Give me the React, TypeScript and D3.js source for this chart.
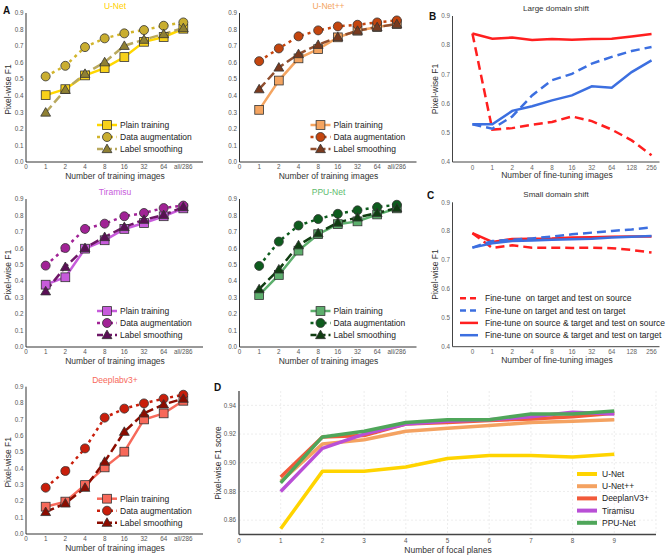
import React from "react";
import * as d3 from "d3";

const FONT = "'Liberation Sans', Arial, Helvetica, sans-serif";

// ---------- Panel A data ----------
const trainLabels = ["0", "1", "2", "4", "8", "16", "32", "64", "all/286"];
const trainPos = [1, 2, 3, 4, 5, 6, 7, 8];
const seriesNames = ["Plain training", "Data augmentation", "Label smoothing"];

const unetPlain = [0.404, 0.44, 0.523, 0.567, 0.634, 0.726, 0.755, 0.805];
const unetAug = [0.517, 0.581, 0.694, 0.747, 0.777, 0.797, 0.823, 0.843];
const unetLS = [0.299, 0.436, 0.533, 0.603, 0.702, 0.739, 0.773, 0.809];

const unetppPlain = [0.315, 0.492, 0.626, 0.682, 0.753, 0.793, 0.815, 0.833];
const unetppAug = [0.609, 0.686, 0.759, 0.795, 0.819, 0.829, 0.843, 0.855];
const unetppLS = [0.44, 0.571, 0.652, 0.708, 0.755, 0.793, 0.815, 0.833];

const tiraPlain = [0.379, 0.424, 0.598, 0.649, 0.718, 0.754, 0.795, 0.843];
const tiraAug = [0.495, 0.602, 0.718, 0.75, 0.795, 0.815, 0.845, 0.86];
const tiraLS = [0.339, 0.487, 0.602, 0.669, 0.73, 0.774, 0.803, 0.851];

const ppuPlain = [0.316, 0.438, 0.586, 0.686, 0.747, 0.764, 0.806, 0.843];
const ppuAug = [0.493, 0.641, 0.739, 0.778, 0.81, 0.831, 0.851, 0.865];
const ppuLS = [0.352, 0.472, 0.619, 0.692, 0.757, 0.788, 0.815, 0.845];

const deepPlain = [0.167, 0.198, 0.299, 0.407, 0.503, 0.7, 0.737, 0.814];
const deepAug = [0.283, 0.385, 0.523, 0.711, 0.766, 0.798, 0.827, 0.851];
const deepLS = [0.135, 0.187, 0.283, 0.442, 0.625, 0.737, 0.792, 0.827];

const yTicksA = [0, 0.1, 0.2, 0.3, 0.4, 0.5, 0.6, 0.7, 0.8, 0.9];

// ---------- Panel B / C data ----------
const ftLabels = ["0", "1", "2", "4", "8", "16", "32", "64", "128", "256"];
const ftPos = [0, 1, 2, 3, 4, 5, 6, 7, 8, 9];
const bRedSolid = [0.84, 0.822, 0.826, 0.818, 0.821, 0.819, 0.821, 0.822, 0.83, 0.838];
const bRedDashed = [0.84, 0.511, 0.516, 0.528, 0.537, 0.556, 0.54, 0.511, 0.474, 0.423];
const bBlueDashed = [0.529, 0.514, 0.556, 0.628, 0.68, 0.702, 0.737, 0.76, 0.78, 0.794];
const bBlueSolid = [0.529, 0.529, 0.575, 0.591, 0.611, 0.628, 0.659, 0.654, 0.708, 0.748];

const cRedSolid = [0.793, 0.763, 0.773, 0.774, 0.775, 0.778, 0.779, 0.781, 0.782, 0.782];
const cRedDashed = [0.793, 0.742, 0.751, 0.743, 0.743, 0.742, 0.743, 0.741, 0.735, 0.726];
const cBlueDashed = [0.743, 0.766, 0.77, 0.775, 0.781, 0.789, 0.795, 0.801, 0.806, 0.813];
const cBlueSolid = [0.743, 0.758, 0.766, 0.768, 0.77, 0.772, 0.774, 0.778, 0.781, 0.783];
const yTicksBC = [0.4, 0.5, 0.6, 0.7, 0.8, 0.9];
const ftLegend = [
  "Fine-tune  on target and test on source",
  "Fine-tune on target and test on target",
  "Fine-tune on source & target and test on source",
  "Fine-tune on source & target and test on target",
];

// ---------- Panel D data ----------
const focalPlanes = [1, 2, 3, 4, 5, 6, 7, 8, 9];
const focalTickLabels = [0, 1, 2, 3, 4, 5, 6, 7, 8, 9];
const dUnet = [0.854, 0.894, 0.894, 0.897, 0.903, 0.905, 0.905, 0.904, 0.906];
const dUnetpp = [0.887, 0.913, 0.916, 0.922, 0.924, 0.926, 0.928, 0.929, 0.93];
const dDeeplab = [0.89, 0.918, 0.919, 0.927, 0.928, 0.9295, 0.9305, 0.932, 0.9345];
const dTiramisu = [0.88, 0.91, 0.92, 0.927, 0.929, 0.93, 0.932, 0.9352, 0.934];
const dPpunet = [0.886, 0.918, 0.922, 0.928, 0.93, 0.93, 0.934, 0.934, 0.936];
const dNames = ["U-Net", "U-Net++", "DeeplanV3+", "Tiramisu", "PPU-Net"];
const dYTicks = [0.86, 0.88, 0.9, 0.92, 0.94];

type Style = { line: string; fill: string };

function Marker({ kind, x, y, fill }: { kind: number; x: number; y: number; fill: string }) {
  const stroke = "#333";
  if (kind === 0) return <rect x={x - 4.4} y={y - 4.4} width={8.8} height={8.8} fill={fill} stroke={stroke} strokeWidth={0.8} />;
  if (kind === 1) return <circle cx={x} cy={y} r={4.5} fill={fill} stroke={stroke} strokeWidth={0.8} />;
  const p = d3.symbol(d3.symbolTriangle, 42)() as string;
  return <path d={p} transform={`translate(${x},${y + 0.8})`} fill={fill} stroke={stroke} strokeWidth={0.8} />;
}

const dashA = ["none", "3 4", "9 4"];

function LearningPanel(props: {
  x0: number; yTop: number; yBot: number; title: string; titleColor: string;
  data: number[][]; styles: Style[]; showYLabel: boolean;
}) {
  const { x0, yTop, yBot, title, titleColor, data, styles, showYLabel } = props;
  const x = d3.scaleLinear().domain([0, 9]).range([x0, x0 + 177]);
  const y = d3.scaleLinear().domain([0, 0.9]).range([yBot, yTop]);
  const line = d3.line<number>().x((_, i) => x(trainPos[i])).y((d) => y(d));
  const lx = x0 + 71;
  return (
    <g>
      <text x={x0 + 89} y={yTop - 4} textAnchor="middle" fontSize={8.5} fill={titleColor}>{title}</text>
      <line x1={x0} x2={x0} y1={yTop} y2={yBot} stroke="#333" strokeWidth={1} />
      <line x1={x0} x2={x(9)} y1={yBot} y2={yBot} stroke="#333" strokeWidth={1} />
      {yTicksA.map((t) => (
        <text key={t} x={x0 - 2.5} y={y(t) + 2.2} textAnchor="end" fontSize={6.3} fill="#555">{d3.format(".1f")(t)}</text>
      ))}
      {trainLabels.map((l, i) => (
        <text key={l} x={x(i)} y={yBot + 7.2} textAnchor="middle" fontSize={6.3} fill="#555">{l}</text>
      ))}
      <text x={x0 + 89} y={yBot + 17} textAnchor="middle" fontSize={8.5} fill="#333">Number of training images</text>
      {showYLabel && (
        <text transform={`translate(10.5,${(yTop + yBot) / 2 + 2}) rotate(-90)`} textAnchor="middle" fontSize={8.5} fill="#333">Pixel-wise F1</text>
      )}
      {data.map((s, k) => (
        <path key={k} d={line(s) as string} fill="none" stroke={styles[k].line} strokeWidth={2.5} strokeDasharray={dashA[k]} />
      ))}
      {data.map((s, k) => (
        <g key={k}>
          {s.map((v, i) => (
            <Marker key={i} kind={k} x={x(trainPos[i])} y={y(v)} fill={styles[k].fill} />
          ))}
        </g>
      ))}
      {seriesNames.map((n, k) => {
        const ly = yTop + 112 + k * 12;
        return (
          <g key={n}>
            <line x1={lx} x2={lx + 20} y1={ly} y2={ly} stroke={styles[k].line} strokeWidth={2.5} strokeDasharray={k === 1 ? "3 3.5" : k === 2 ? "6 3" : "none"} />
            <Marker kind={k} x={lx + 10} y={ly} fill={styles[k].fill} />
            <text x={lx + 23} y={ly + 3} fontSize={8.5} fill="#222">{n}</text>
          </g>
        );
      })}
    </g>
  );
}

function ShiftPanel(props: {
  yTop: number; yBot: number; title: string; series: number[][]; colors: string[]; dashed: boolean[]; legend: boolean;
}) {
  const { yTop, yBot, title, series, colors, dashed, legend } = props;
  const x = d3.scaleLinear().domain([-1, 9.4]).range([452.5, 659.5]);
  const y = d3.scaleLinear().domain([0.4, 0.9]).range([yBot, yTop]);
  const line = d3.line<number>().x((_, i) => x(ftPos[i])).y((d) => y(d));
  return (
    <g>
      <text x={556} y={yTop - 5.5} textAnchor="middle" fontSize={8} fill="#333">{title}</text>
      <line x1={452.5} x2={452.5} y1={yTop} y2={yBot} stroke="#444" strokeWidth={1} />
      <line x1={452.5} x2={659.5} y1={yBot} y2={yBot} stroke="#444" strokeWidth={1} />
      {yTicksBC.map((t) => (
        <text key={t} x={450} y={y(t) + 2.2} textAnchor="end" fontSize={6.3} fill="#666">{d3.format(".1f")(t)}</text>
      ))}
      {ftLabels.map((l, i) => (
        <text key={l} x={x(ftPos[i])} y={yBot + 7.5} textAnchor="middle" fontSize={6.3} fill="#666">{l}</text>
      ))}
      <text x={557} y={yBot + 16} textAnchor="middle" fontSize={8.5} fill="#333">Number of fine-tuning images</text>
      <text transform={`translate(437.5,${(yTop + yBot) / 2}) rotate(-90)`} textAnchor="middle" fontSize={8.5} fill="#333">Pixel-wise F1</text>
      {series.map((s, k) => (
        <path key={k} d={line(s) as string} fill="none" stroke={colors[k]} strokeWidth={2.5} strokeDasharray={dashed[k] ? "9 5" : "none"} />
      ))}
      {legend && [1, 2, 0, 3].map((k, r) => {
        const ly = yTop + 96 + r * 12.3;
        return (
          <g key={k}>
            <line x1={460} x2={478} y1={ly} y2={ly} stroke={colors[k]} strokeWidth={2.5} strokeDasharray={dashed[k] ? "6 4" : "none"} />
            <text x={485} y={ly + 3} fontSize={8.5} fill="#222" style={{ whiteSpace: "pre" }}>{ftLegend[r]}</text>
          </g>
        );
      })}
    </g>
  );
}

function FocalPanel() {
  const x = d3.scaleLinear().domain([0, 10]).range([239, 656]);
  const y = d3.scaleLinear().domain([0.85, 0.95]).range([534.5, 391]);
  const line = d3.line<number>().x((_, i) => x(focalPlanes[i])).y((d) => y(d));
  const series = [dUnet, dUnetpp, dDeeplab, dTiramisu, dPpunet];
  const colors = ["#FFD400", "#F4A261", "#F25A3A", "#B94FD6", "#4FA65A"];
  return (
    <g>
      {d3.range(1, 11).map((v) => (
        <line key={v} x1={x(v)} x2={x(v)} y1={391} y2={534.5} stroke="#e8e8e8" strokeWidth={0.8} strokeDasharray="2 2" />
      ))}
      {dYTicks.map((t) => (
        <line key={t} x1={239} x2={656} y1={y(t)} y2={y(t)} stroke="#e8e8e8" strokeWidth={0.8} strokeDasharray="2 2" />
      ))}
      <line x1={239} x2={239} y1={391} y2={534.5} stroke="#444" strokeWidth={1.3} />
      <line x1={239} x2={656} y1={534.5} y2={534.5} stroke="#444" strokeWidth={1.3} />
      {dYTicks.map((t) => (
        <text key={t} x={236} y={y(t) + 2.2} textAnchor="end" fontSize={6.3} fill="#555">{d3.format(".2f")(t)}</text>
      ))}
      {focalTickLabels.map((t) => (
        <text key={t} x={x(t)} y={542.5} textAnchor="middle" fontSize={6.3} fill="#555">{t}</text>
      ))}
      <text x={448} y={553} textAnchor="middle" fontSize={8.5} fill="#333">Number of focal planes</text>
      <text transform={`translate(220.5,463) rotate(-90)`} textAnchor="middle" fontSize={8.5} fill="#333">Pixel-wise F1 score</text>
      {series.map((s, k) => (
        <path key={k} d={line(s) as string} fill="none" stroke={colors[k]} strokeWidth={3.5} strokeLinejoin="round" />
      ))}
      {dNames.map((n, k) => {
        const ly = 474 + k * 12.2;
        return (
          <g key={n}>
            <line x1={577} x2={597} y1={ly} y2={ly} stroke={colors[k]} strokeWidth={4} />
            <text x={602} y={ly + 3} fontSize={8.5} fill="#222">{n}</text>
          </g>
        );
      })}
    </g>
  );
}

export default function App() {
  const unetStyles: Style[] = [
    { line: "#FFD700", fill: "#F7D11A" },
    { line: "#D2B52C", fill: "#C9AE30" },
    { line: "#B9A95E", fill: "#8F8033" },
  ];
  const unetppStyles: Style[] = [
    { line: "#F4A460", fill: "#F4A460" },
    { line: "#C4450E", fill: "#C4450E" },
    { line: "#8F4E2E", fill: "#7A3A1E" },
  ];
  const tiraStyles: Style[] = [
    { line: "#C75BDB", fill: "#C75BDB" },
    { line: "#A12396", fill: "#A12396" },
    { line: "#6E1767", fill: "#5A0F55" },
  ];
  const ppuStyles: Style[] = [
    { line: "#5DAF6D", fill: "#5DAF6D" },
    { line: "#0E5C1E", fill: "#0E5C1E" },
    { line: "#103D12", fill: "#103D12" },
  ];
  const deepStyles: Style[] = [
    { line: "#F7695A", fill: "#F7695A" },
    { line: "#C91E0B", fill: "#C91E0B" },
    { line: "#8C0C00", fill: "#8C0C00" },
  ];
  const red = "#FF1F1F";
  const blue = "#3C6FE0";
  return (
    <svg width={667} height={557} style={{ position: "absolute", left: 0, top: 0, background: "#fff" }} fontFamily={FONT}>
      <rect width={667} height={557} fill="#fff" />
      <text x={3} y={13.5} fontSize={10} fontWeight="bold" fill="#111">A</text>
      <text x={429} y={20} fontSize={10} fontWeight="bold" fill="#111">B</text>
      <text x={427} y={198.5} fontSize={10} fontWeight="bold" fill="#111">C</text>
      <text x={214} y={391} fontSize={10} fontWeight="bold" fill="#111">D</text>

      <LearningPanel x0={26} yTop={13} yBot={162} title="U-Net" titleColor="#FFD000" data={[unetPlain, unetAug, unetLS]} styles={unetStyles} showYLabel />
      <LearningPanel x0={239.5} yTop={13} yBot={162} title="U-Net++" titleColor="#F4A460" data={[unetppPlain, unetppAug, unetppLS]} styles={unetppStyles} showYLabel={false} />
      <LearningPanel x0={26} yTop={199} yBot={347} title="Tiramisu" titleColor="#C75BDB" data={[tiraPlain, tiraAug, tiraLS]} styles={tiraStyles} showYLabel />
      <LearningPanel x0={239.5} yTop={199} yBot={347} title="PPU-Net" titleColor="#5DBB6E" data={[ppuPlain, ppuAug, ppuLS]} styles={ppuStyles} showYLabel={false} />
      <LearningPanel x0={26} yTop={386.7} yBot={534} title="Deeplabv3+" titleColor="#F7695A" data={[deepPlain, deepAug, deepLS]} styles={deepStyles} showYLabel />

      <ShiftPanel yTop={16} yBot={162} title="Large domain shift" series={[bRedSolid, bRedDashed, bBlueDashed, bBlueSolid]} colors={[red, red, blue, blue]} dashed={[false, true, true, false]} legend={false} />
      <ShiftPanel yTop={202.3} yBot={346.7} title="Small domain shift" series={[cRedSolid, cRedDashed, cBlueDashed, cBlueSolid]} colors={[red, red, blue, blue]} dashed={[false, true, true, false]} legend />

      <FocalPanel />
    </svg>
  );
}
